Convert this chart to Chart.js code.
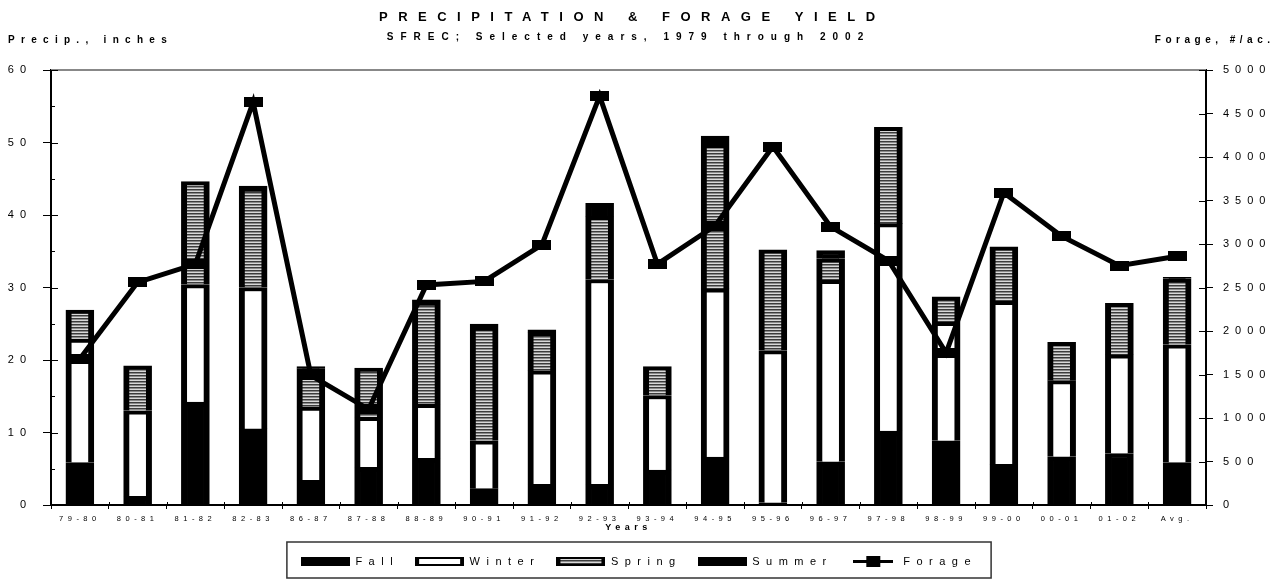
<!DOCTYPE html>
<html>
<head>
<meta charset="utf-8">
<script src="https://cdn.jsdelivr.net/npm/chart.js@4.4.1/dist/chart.umd.min.js"></script>
<style>
  html, body { margin: 0; padding: 0; background: #fff; }
  #chart { display: block; }
</style>
</head>
<body>
<canvas id="chart" width="1278" height="581"></canvas>
<script>
// Precipitation (inches) by season, and forage yield (#/ac.)
const years = ["79-80", "80-81", "81-82", "82-83", "86-87", "87-88", "88-89", "90-91", "91-92", "92-93",
  "93-94", "94-95", "95-96", "96-97", "97-98", "98-99", "99-00", "00-01", "01-02", "Avg."];
const fall = [5.85, 1.2, 14.2, 10.5, 3.4, 5.2, 6.45, 2.25, 2.85, 2.85,
  4.8, 6.6, 0.3, 5.95, 10.2, 8.85, 5.6, 6.65, 7.1, 5.85];
const winter = [17.05, 11.8, 16.2, 19.5, 10.1, 6.9, 7.45, 6.6, 15.65, 28.25,
  10.3, 23.2, 21.0, 25.05, 28.6, 16.35, 22.5, 10.5, 13.6, 16.25];
const spring = [4.0, 6.2, 14.2, 13.7, 5.3, 6.8, 14.1, 15.7, 5.3, 8.7,
  4.0, 19.95, 13.9, 2.95, 13.3, 3.5, 7.5, 5.3, 7.1, 9.1];
const summer = [0, 0, 0, 0.3, 0.3, 0, 0.3, 0.4, 0.35, 1.8,
  0, 1.15, 0, 1.15, 0, 0, 0, 0, 0, 0.2];
const forage = [1680, 2560, 2770, 4630, 1490, 1100, 2530, 2570, 2990, 4700,
  2770, 3210, 4120, 3200, 2810, 1750, 3590, 3090, 2750, 2860];

const FONT = "'Liberation Sans', Arial, sans-serif";

// small helper canvases
function makeCanvas(w, h, draw) {
  const c = document.createElement("canvas");
  c.width = w;
  c.height = h;
  draw(c.getContext("2d"), w, h);
  return c;
}

// horizontal stripes for spring
const stripeTile = makeCanvas(1, 3, (g) => {
  g.fillStyle = "#3c3c3c";
  g.fillRect(0, 0, 1, 1);
  g.fillStyle = "#8a8a8a";
  g.fillRect(0, 1, 1, 1);
  g.fillStyle = "#d8d8d8";
  g.fillRect(0, 2, 1, 1);
});
const stripes = document.createElement("canvas").getContext("2d").createPattern(stripeTile, "repeat");

const marker = makeCanvas(19, 10, (g, w, h) => {
  g.fillStyle = "#000";
  g.fillRect(0, 0, w, h);
});

// legend swatches
const swatches = [
  makeCanvas(49, 9, (g, w, h) => { g.fillStyle = "#000"; g.fillRect(0, 0, w, h); }),
  makeCanvas(49, 9, (g, w, h) => {
    g.fillStyle = "#000"; g.fillRect(0, 0, w, h);
    g.fillStyle = "#fff"; g.fillRect(4, 2, w - 8, h - 4);
  }),
  makeCanvas(49, 9, (g, w, h) => {
    g.fillStyle = "#000"; g.fillRect(0, 0, w, h);
    g.fillStyle = g.createPattern(stripeTile, "repeat"); g.fillRect(4, 2, w - 8, h - 4);
  }),
  makeCanvas(49, 9, (g, w, h) => { g.fillStyle = "#000"; g.fillRect(0, 0, w, h); }),
  makeCanvas(40, 11, (g, w, h) => {
    g.fillStyle = "#000";
    g.fillRect(0, 4, w, 3);
    g.fillRect(13, 0, 14, h);
  }),
];

// letter spacing per layout box (the old chart had very spaced-out text)
function spaced(box, name, px) {
  if (Object.prototype.hasOwnProperty.call(box, name)) return;
  const orig = box[name];
  box[name] = function (...args) {
    const prev = this.ctx.letterSpacing;
    this.ctx.letterSpacing = px + "px";
    try {
      return orig.apply(this, args);
    } finally {
      this.ctx.letterSpacing = prev;
    }
  };
}

const spacingPlugin = {
  id: "spacing",
  beforeLayout(chart) {
    chart.boxes.forEach((box) => {
      let px = 0;
      if (box === chart.legend) px = 6.5;
      else if (box.id === "x") px = 4.5;
      else if (box.id === "y" || box.id === "y1") px = 6;
      if (px) {
        spaced(box, "fit", px);
        spaced(box, "draw", px);
      }
    });
  },
};

function spacedText(ctx, text, x, y, px, align) {
  ctx.letterSpacing = px + "px";
  const w = ctx.measureText(text).width - px;
  let x0 = x;
  if (align === "center") x0 = x - w / 2;
  if (align === "right") x0 = x - w;
  ctx.textAlign = "left";
  ctx.fillText(text, x0, y);
  ctx.letterSpacing = "0px";
}

// headings, frame bits and the legend border
const decorPlugin = {
  id: "decor",
  beforeDatasetsDraw(chart) {
    const { ctx, chartArea } = chart;
    ctx.save();
    ctx.strokeStyle = "#888";
    ctx.lineWidth = 2;
    ctx.beginPath();
    ctx.moveTo(chartArea.left, chartArea.top);
    ctx.lineTo(chartArea.right, chartArea.top);
    ctx.stroke();
    ctx.restore();
  },
  afterDraw(chart) {
    const { ctx, chartArea, scales } = chart;
    const cx = chart.width / 2;
    ctx.save();
    ctx.fillStyle = "#000";
    ctx.textBaseline = "middle";
    ctx.font = "bold 13px " + FONT;
    spacedText(ctx, "PRECIPITATION & FORAGE YIELD", cx - 12, 17, 10.5, "center");
    ctx.font = "bold 10px " + FONT;
    spacedText(ctx, "SFREC; Selected years, 1979 through 2002", cx - 14, 37, 7, "center");
    spacedText(ctx, "Precip., inches", 8, 40, 6.3, "left");
    spacedText(ctx, "Forage, #/ac.", 1270, 40, 4.5, "right");

    // inner halves of the tick marks
    ctx.strokeStyle = "#000";
    ctx.lineWidth = 1;
    ctx.beginPath();
    scales.y.ticks.forEach((t) => {
      const py = Math.round(scales.y.getPixelForValue(t.value)) + 0.5;
      ctx.moveTo(chartArea.left, py);
      ctx.lineTo(chartArea.left + (t.value % 10 === 0 ? 7 : 4), py);
    });
    scales.y1.ticks.forEach((t) => {
      const py = Math.round(scales.y1.getPixelForValue(t.value)) + 0.5;
      ctx.moveTo(chartArea.right - 7, py);
      ctx.lineTo(chartArea.right, py);
    });
    for (let i = 1; i < years.length; i++) {
      const px = Math.round((scales.x.getPixelForTick(i - 1) + scales.x.getPixelForTick(i)) / 2) + 0.5;
      ctx.moveTo(px, chartArea.bottom - 3);
      ctx.lineTo(px, chartArea.bottom);
    }
    ctx.stroke();

    // legend frame
    const lg = chart.legend;
    if (lg && lg.legendHitBoxes.length) {
      const left = lg.legendHitBoxes[0].left - 14;
      const right = chart.width - left;
      ctx.strokeStyle = "#333";
      ctx.lineWidth = 1.5;
      ctx.strokeRect(left, lg.top + 2, right - left, lg.bottom - lg.top - 1);
    }
    ctx.restore();
  },
};

const ctx = document.getElementById("chart").getContext("2d");
const barBorder = { top: 4, left: 6, right: 6, bottom: 0 };

new Chart(ctx, {
  type: "bar",
  data: {
    labels: years,
    datasets: [
      { label: "Fall", data: fall, backgroundColor: "#000", borderColor: "#000", borderWidth: barBorder, order: 1 },
      { label: "Winter", data: winter, backgroundColor: "#fff", borderColor: "#000", borderWidth: barBorder, order: 1 },
      { label: "Spring", data: spring, backgroundColor: stripes, borderColor: "#000", borderWidth: barBorder, order: 1 },
      { label: "Summer", data: summer, backgroundColor: "#000", borderColor: "#000", borderWidth: barBorder, order: 1 },
      {
        type: "line",
        label: "Forage",
        data: forage,
        yAxisID: "y1",
        borderColor: "#000",
        backgroundColor: "#000",
        borderWidth: 5,
        tension: 0,
        pointStyle: marker,
        pointRadius: 6,
        order: 0,
      },
    ],
  },
  options: {
    responsive: false,
    animation: false,
    devicePixelRatio: 1,
    layout: { padding: { top: 70, bottom: 4, left: 0, right: 0 } },
    datasets: { bar: { barThickness: 28 } },
    plugins: {
      title: { display: false },
      tooltip: { enabled: false },
      legend: {
        position: "bottom",
        labels: {
          usePointStyle: true,
          pointStyleWidth: 49,
          boxHeight: 9,
          padding: 16,
          color: "#000",
          font: { family: FONT, size: 11 },
          generateLabels: (chart) =>
            chart.data.datasets.map((ds, i) => ({
              text: ds.label,
              pointStyle: swatches[i],
              datasetIndex: i,
              hidden: false,
              lineWidth: 0,
              fontColor: "#000",
            })),
        },
      },
    },
    scales: {
      x: {
        stacked: true,
        grid: { display: true, offset: true, drawOnChartArea: false, tickLength: 4, color: "#000" },
        border: { color: "#000", width: 2 },
        ticks: { color: "#000", font: { family: FONT, size: 7.5 }, padding: 5, autoSkip: false, maxRotation: 0 },
        title: {
          display: true,
          text: "Years",
          color: "#000",
          font: { family: FONT, size: 9, weight: "bold" },
          padding: { top: 0, bottom: 7 },
        },
        afterFit: (s) => { s.height = 35; },
      },
      y: {
        stacked: true,
        min: 0,
        max: 60,
        grid: {
          drawOnChartArea: false,
          tickLength: 8,
          color: (c) => (c.tick && c.tick.value % 10 === 0 ? "#000" : "rgba(0,0,0,0)"),
        },
        border: { color: "#000", width: 2 },
        ticks: {
          stepSize: 5,
          color: "#000",
          font: { family: FONT, size: 11 },
          padding: 11,
          callback: (v) => (v % 10 === 0 ? String(v) : ""),
        },
        afterFit: (s) => { s.width = 51; },
      },
      y1: {
        position: "right",
        min: 0,
        max: 5000,
        grid: { drawOnChartArea: false, tickLength: 7, color: "#000" },
        border: { color: "#000", width: 2 },
        ticks: {
          stepSize: 500,
          color: "#000",
          font: { family: FONT, size: 11 },
          padding: 10,
          callback: (v) => String(v),
        },
        afterFit: (s) => { s.width = 72; },
      },
    },
  },
  plugins: [spacingPlugin, decorPlugin],
});
</script>
</body>
</html>
